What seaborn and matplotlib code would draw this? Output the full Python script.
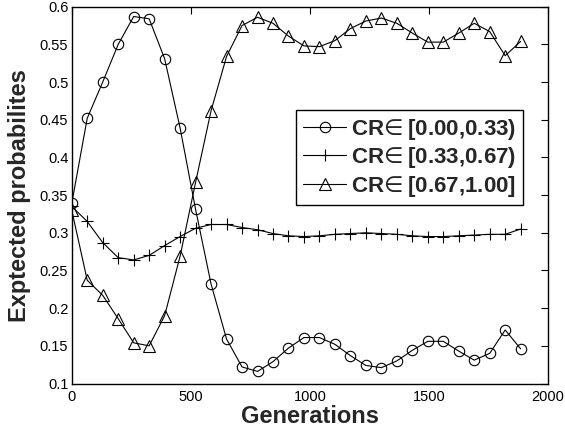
import numpy as np
import pandas as pd
import matplotlib
matplotlib.use("Agg")
import matplotlib.pyplot as plt
import seaborn as sns

# Generation at which each sample was recorded
generations = [0, 65, 130, 195, 260, 325, 390, 455, 520, 585,
               650, 715, 780, 845, 910, 975, 1040, 1105, 1170, 1235,
               1300, 1365, 1430, 1495, 1560, 1625, 1690, 1755, 1820, 1885]

# Expected probabilities of each CR interval
cr_low = [0.339, 0.452, 0.500, 0.550, 0.587, 0.584, 0.531, 0.439, 0.331, 0.232,
          0.159, 0.122, 0.116, 0.129, 0.147, 0.161, 0.161, 0.152, 0.137, 0.124,
          0.121, 0.130, 0.144, 0.156, 0.156, 0.143, 0.131, 0.140, 0.171, 0.146]
cr_mid = [0.335, 0.315, 0.287, 0.267, 0.264, 0.270, 0.283, 0.295, 0.306, 0.311,
          0.311, 0.307, 0.304, 0.299, 0.296, 0.295, 0.296, 0.298, 0.299, 0.300,
          0.299, 0.298, 0.296, 0.295, 0.295, 0.296, 0.297, 0.298, 0.298, 0.305]
cr_high = [0.330, 0.237, 0.217, 0.186, 0.154, 0.150, 0.190, 0.269, 0.367, 0.462,
           0.534, 0.575, 0.586, 0.578, 0.561, 0.548, 0.547, 0.555, 0.571, 0.581,
           0.585, 0.578, 0.565, 0.553, 0.553, 0.565, 0.578, 0.567, 0.535, 0.554]

labels = [r"CR$\!\in$[0.00,0.33)", r"CR$\!\in$[0.33,0.67)", r"CR$\!\in$[0.67,1.00]"]
xticks = [0, 500, 1000, 1500, 2000]
yticks = [0.1, 0.15, 0.2, 0.25, 0.3, 0.35, 0.4, 0.45, 0.5, 0.55, 0.6]

sns.set_style("white")
plt.rcParams["font.family"] = ["Liberation Sans", "DejaVu Sans"]
plt.rcParams["mathtext.fontset"] = "dejavusans"

df = pd.DataFrame({"gen": generations, "low": cr_low, "mid": cr_mid, "high": cr_high})

fig = plt.figure(figsize=(5.65, 4.36), dpi=100)
ax = fig.add_axes([0.127, 0.1204, 0.843, 0.8642])

styles = [("low", "o", 7.5), ("mid", "+", 8.0), ("high", "^", 9.0)]
for (col, mk, ms), lab in zip(styles, labels):
    sns.lineplot(data=df, x="gen", y=col, ax=ax, color="black", linewidth=0.8,
                 marker=mk, markersize=ms, markerfacecolor="none",
                 markeredgecolor="black", markeredgewidth=0.8, label=lab)

ax.set_xlim(0, 2000)
ax.set_ylim(0.1, 0.6)
ax.set_xticks(xticks)
ax.set_xticklabels([str(t) for t in xticks])
ax.set_yticks(yticks)
ax.set_yticklabels([f"{t:g}" for t in yticks])
ax.tick_params(direction="in", length=5, width=0.8, top=True, right=True,
               labelsize=10.5, colors="black")
ax.tick_params(axis="x", pad=4.5)
ax.tick_params(axis="y", pad=2.5)
for s in ax.spines.values():
    s.set_visible(True)
    s.set_color("black")
    s.set_linewidth(1.0)

ax.set_xlabel("Generations", fontsize=17, fontweight="bold", labelpad=1)
ax.set_ylabel("Exptected probabilites", fontsize=17, fontweight="bold", labelpad=6)

leg = ax.legend(loc="upper right", bbox_to_anchor=(0.9475, 0.726),
                prop={"weight": "bold", "size": 16}, frameon=True, fancybox=False,
                edgecolor="black", framealpha=1, handlelength=1.95, handletextpad=0.22,
                labelspacing=0.16, borderpad=0.3, borderaxespad=0)
leg.get_frame().set_linewidth(1.0)

fig.savefig("out.png", dpi=100)
